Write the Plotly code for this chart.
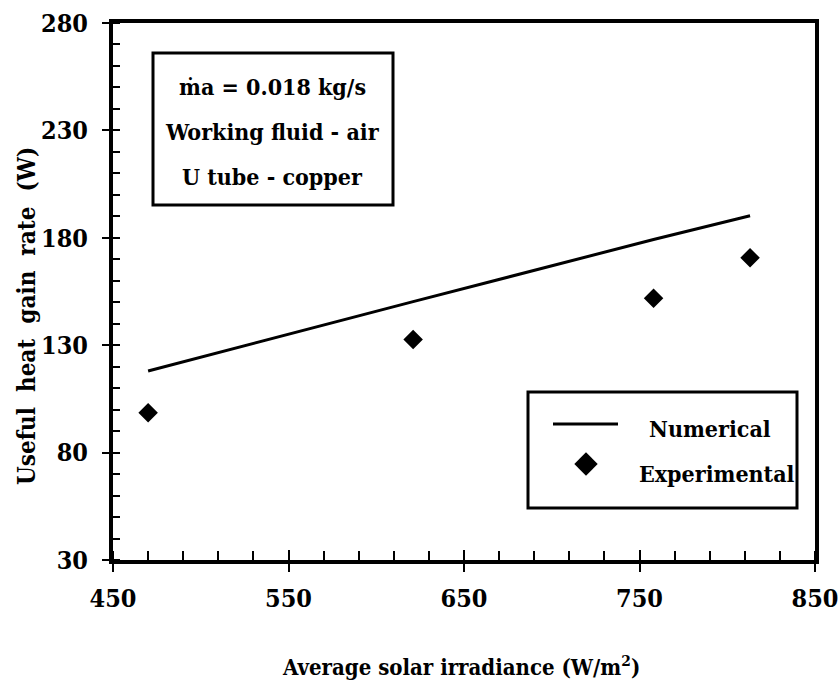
import plotly.graph_objects as go

# Average solar irradiance (W/m2) and useful heat gain rate (W)
irradiance = [470, 621, 758, 813]
numerical_gain = [118, 150.3, 179.2, 190.3]
experimental_gain = [98.6, 132.7, 151.8, 170.7]

x_ticks = [450, 550, 650, 750, 850]
y_ticks = [30, 80, 130, 180, 230, 280]

FONT = "DejaVu Serif Condensed"
W, H = 838, 686
L, R, T, B = 113, 23, 23, 126

fig = go.Figure()

fig.add_trace(go.Scatter(
    x=irradiance, y=numerical_gain, mode="lines",
    line=dict(color="black", width=3), showlegend=False,
))
fig.add_trace(go.Scatter(
    x=irradiance, y=experimental_gain, mode="markers",
    marker=dict(symbol="diamond", size=15, color="black"), showlegend=False,
))

# pixel frame (x3/y3) used to place the boxed notes and the key
fig.add_trace(go.Scatter(
    x=[586], y=[464], mode="markers", xaxis="x3", yaxis="y3",
    marker=dict(symbol="diamond", size=18, color="black"),
    showlegend=False, hoverinfo="skip",
))

tick_font = dict(family=FONT, size=25, color="black", weight="bold")

fig.update_layout(
    width=W, height=H,
    margin=dict(l=L, r=R, t=T, b=B, autoexpand=False),
    paper_bgcolor="white", plot_bgcolor="white",
    font=dict(family=FONT, color="black"),
    xaxis=dict(
        range=[450, 850], tickvals=x_ticks, ticktext=[str(v) for v in x_ticks],
        showline=True, linewidth=4, linecolor="black", mirror=True,
        ticks="outside", ticklen=8, tickwidth=2, tickcolor="black",
        minor=dict(ticks="inside", dtick=20, tick0=450, ticklen=9, tickwidth=2, tickcolor="black"),
        ticklabelstandoff=5, ticklabeloverflow="allow", tickfont=tick_font, automargin=False,
        showgrid=False, zeroline=False,
    ),
    yaxis=dict(
        range=[30, 280], tickvals=y_ticks, ticktext=[str(v) for v in y_ticks],
        showline=True, linewidth=4, linecolor="black", mirror=True,
        ticks="outside", ticklen=7, tickwidth=2, tickcolor="black",
        minor=dict(ticks="inside", dtick=10, tick0=30, ticklen=7, tickwidth=2, tickcolor="black"),
        ticklabelstandoff=9, ticklabeloverflow="allow", tickfont=tick_font, automargin=False,
        showgrid=False, zeroline=False,
    ),
    # inner halves of the major ticks
    xaxis2=dict(
        overlaying="x", anchor="y", side="bottom", range=[450, 850],
        tickvals=x_ticks, ticks="inside", ticklen=10, tickwidth=2, tickcolor="black",
        showticklabels=False, showline=False, showgrid=False, zeroline=False,
        automargin=False,
    ),
    yaxis2=dict(
        overlaying="y", anchor="x", side="left", range=[30, 280],
        tickvals=y_ticks, ticks="inside", ticklen=7, tickwidth=2, tickcolor="black",
        showticklabels=False, showline=False, showgrid=False, zeroline=False,
        automargin=False,
    ),
    xaxis3=dict(overlaying="x", anchor="y3", range=[L, W - R], visible=False),
    yaxis3=dict(overlaying="y", anchor="x3", range=[H - B, T], visible=False),
)

# invisible trace so the tick-only overlay axes are drawn
fig.add_trace(go.Scatter(x=[450], y=[30], xaxis="x2", yaxis="y2", mode="markers",
                         marker=dict(opacity=0), showlegend=False, hoverinfo="skip"))

text_font = dict(family=FONT, size=23, color="black", weight="bold")

# note box
fig.add_shape(type="rect", xref="x3", yref="y3", x0=153, x1=393, y0=53, y1=205,
              line=dict(color="black", width=3), fillcolor="white", layer="below")
notes = ["ṁa = 0.018 kg/s", "Working fluid - air", "U tube - copper"]
for text, yc in zip(notes, [86, 131, 176]):
    fig.add_annotation(xref="x3", yref="y3", x=272, y=yc, text=text,
                       showarrow=False, font=text_font,
                       xanchor="center", yanchor="middle")

# key box
fig.add_shape(type="rect", xref="x3", yref="y3", x0=528, x1=797, y0=392, y1=508,
              line=dict(color="black", width=3), fillcolor="white", layer="below")
fig.add_shape(type="line", xref="x3", yref="y3", x0=553, x1=618, y0=424, y1=424,
              line=dict(color="black", width=3))
fig.add_annotation(xref="x3", yref="y3", x=710, y=428, text="Numerical",
                   showarrow=False, font=text_font, xanchor="center", yanchor="middle")
fig.add_annotation(xref="x3", yref="y3", x=717, y=473, text="Experimental",
                   showarrow=False, font=text_font, xanchor="center", yanchor="middle")

# axis titles
fig.add_annotation(xref="paper", yref="paper", x=(461 - L) / (W - L - R),
                   y=-(666 - (H - B)) / (H - T - B),
                   text="Average solar irradiance (W/m<sup>2</sup>)",
                   showarrow=False, font=dict(family=FONT, size=22, color="black", weight="bold"),
                   xanchor="center", yanchor="middle")
fig.add_annotation(xref="paper", yref="paper", x=-(L - 26) / (W - L - R),
                   y=((H - B) - 316) / (H - T - B),
                   text="Useful  heat  gain  rate  (W)", textangle=-90,
                   showarrow=False, font=dict(family=FONT, size=24, color="black", weight="bold"),
                   xanchor="center", yanchor="middle")

fig.write_html("out.html")
